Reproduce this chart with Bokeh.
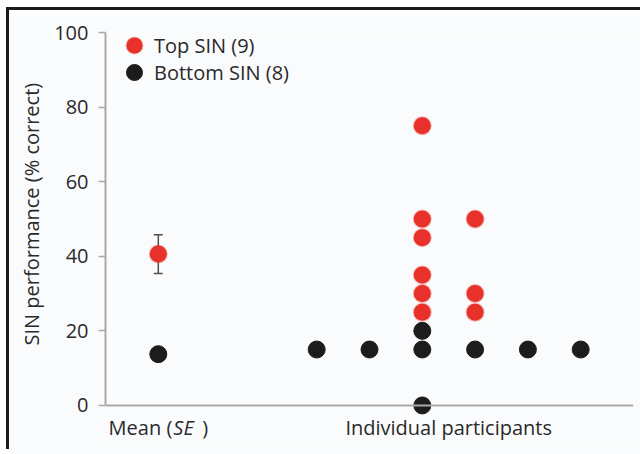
from bokeh.plotting import figure
from bokeh.models import (Range1d, FixedTicker, Legend, LegendItem, Label, Title,
                          Whisker, ColumnDataSource)
from bokeh.embed import file_html
from bokeh.resources import INLINE

# ---- data ----
top_x = [6, 6, 6, 6, 6, 6, 7, 7, 7]
top_y = [75, 50, 45, 35, 30, 25, 50, 30, 25]
bottom_x = [4, 5, 6, 6, 6, 7, 8, 9]
bottom_y = [15, 15, 20, 15, 0, 15, 15, 15]
mean_x = [1, 1]
mean_y = [40.6, 13.75]
mean_se = [5.2, 1.4]
y_ticks = [0, 20, 40, 60, 80, 100]
group_labels = ["Mean (", "SE", ")"]
indiv_label = "Individual participants"
legend_labels = ["Top SIN (9)", "Bottom SIN (8)"]
y_title = "SIN performance (% correct)"

RED = "#e8312a"
BLACK = "#1c1c1c"
AXIS = "#a9a9a9"
TEXT = "#2a2a2a"
FONT = "Open Sans"
BG = "#fafbfc"
FS = "20px"

p = figure(width=631, height=439, x_range=Range1d(0, 10), y_range=Range1d(-10.2, 100),
           output_backend="svg", toolbar_location=None,
           min_border_left=96, min_border_right=7, min_border_top=17, min_border_bottom=11)
p.background_fill_color = BG
p.border_fill_color = BG
p.outline_line_color = None
p.xgrid.visible = False
p.ygrid.visible = False
# thin black frame lines on the left and top (drawn as shadows, no layout effect)
p.styles = {"margin-left": "9px", "margin-top": "15px",
            "box-shadow": "2.5px -2.5px 0px 2.5px #ffffff, -1.5px -6.5px 0px 1.5px #1b1b1b"}

# y axis
ya = p.yaxis[0]
ya.ticker = FixedTicker(ticks=y_ticks)
ya.bounds = (0, 100)
ya.axis_line_color = AXIS
ya.axis_line_width = 2
ya.major_tick_line_color = AXIS
ya.major_tick_line_width = 1.5
ya.major_tick_out = 7
ya.major_tick_in = 0
ya.minor_tick_line_color = None
ya.major_label_standoff = 10
ya.major_label_text_font = FONT
ya.major_label_text_font_size = FS
ya.major_label_text_color = TEXT

p.add_layout(Title(text=y_title, align="left", offset=98, standoff=13,
                   text_font=FONT, text_font_size=FS, text_font_style="normal",
                   text_color=TEXT), "left")

# x axis (line at y = 0)
xa = p.xaxis[0]
xa.fixed_location = 0
xa.ticker = FixedTicker(ticks=[])
xa.major_label_text_font_size = "0px"
xa.major_tick_out = 0
xa.major_tick_in = 0
xa.minor_tick_line_color = None
xa.axis_line_color = AXIS
xa.axis_line_width = 2

# error bars for the means
src_mean = ColumnDataSource(dict(x=mean_x, y=mean_y,
                                 upper=[m + s for m, s in zip(mean_y, mean_se)],
                                 lower=[m - s for m, s in zip(mean_y, mean_se)]))
wh = Whisker(base="x", upper="upper", lower="lower", source=src_mean,
             line_color="#505050", line_width=1.5)
for h in (wh.upper_head, wh.lower_head):
    h.line_color = "#505050"
    h.size = 9
    h.line_width = 1.5
p.add_layout(wh)

SIZE = 17
r_top = p.scatter(top_x, top_y, size=SIZE, color=RED, line_color=RED, line_alpha=0.35, line_width=2)
r_bot = p.scatter(bottom_x, bottom_y, size=SIZE, color=BLACK, line_color=BLACK)
p.scatter(mean_x[:1], mean_y[:1], size=SIZE, color=RED, line_color=RED, line_alpha=0.35, line_width=2)
p.scatter(mean_x[1:], mean_y[1:], size=SIZE, color=BLACK, line_color=BLACK)

leg_common = dict(padding=0, margin=0, glyph_width=40, glyph_height=40, label_height=40,
                  label_standoff=-8, background_fill_alpha=0, border_line_color=None,
                  label_text_font=FONT, label_text_font_size=FS, label_text_color=TEXT)
p.add_layout(Legend(items=[LegendItem(label=legend_labels[0], renderers=[r_top])],
                    location=(9, 378), **leg_common))
p.add_layout(Legend(items=[LegendItem(label=legend_labels[1], renderers=[r_bot])],
                    location=(9, 351), **leg_common))

# x category labels
common = dict(y=0, y_units="data", x_units="data", text_font=FONT, text_font_size=FS,
              text_color=TEXT, text_baseline="middle", y_offset=-22)
p.add_layout(Label(x=mean_x[0], text=group_labels[0], text_align="right", x_offset=14, **common))
p.add_layout(Label(x=mean_x[0], text=group_labels[1], text_align="left", x_offset=15,
                   text_font_style="italic", **common))
p.add_layout(Label(x=mean_x[0], text=group_labels[2], text_align="left", x_offset=44, **common))
indiv_center = (min(bottom_x + top_x) + max(bottom_x + top_x)) / 2
p.add_layout(Label(x=indiv_center, text=indiv_label, text_align="center", **common))

open("out.html", "w").write(file_html(p, INLINE))
